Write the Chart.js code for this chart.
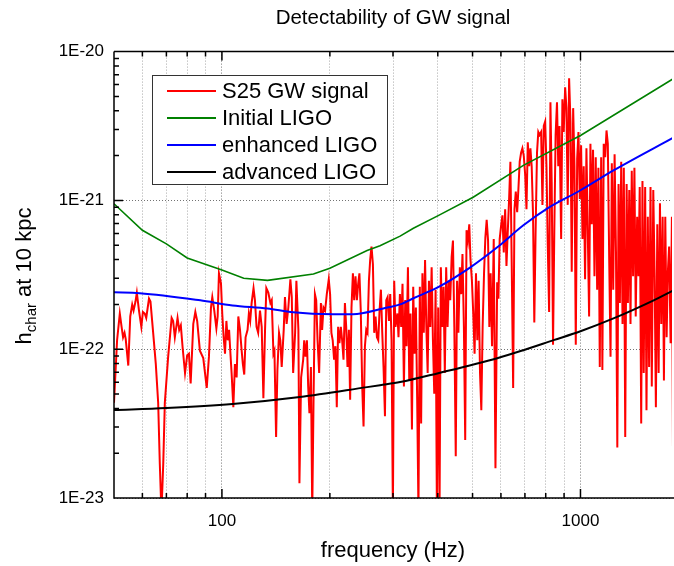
<!DOCTYPE html>
<html>
<head>
<meta charset="utf-8">
<script src="https://cdn.jsdelivr.net/npm/chart.js@4.4.1/dist/chart.umd.min.js"></script>
<style>
  body { margin: 0; background: #fff; overflow: hidden; }
  canvas { display: block; }
</style>
</head>
<body>
<canvas id="gwChart" width="674" height="566"></canvas>
<script>
const FONT = '"Liberation Sans", Arial, sans-serif';

// S25 signal: [frequency (Hz), log10(h_char)]
const s25Signal = [
  [50.0,-22.36],[51.0,-21.94],[51.9,-21.76],[52.5,-21.85],[53.0,-21.92],[53.5,-21.89],[53.9,-21.93],[54.8,-22.11],
  [55.5,-21.78],[56.2,-21.70],[56.7,-21.74],[57.4,-21.68],[57.9,-21.62],[58.7,-21.74],[59.6,-21.85],[60.2,-21.75],
  [60.9,-21.76],[61.5,-21.79],[62.6,-21.66],[63.2,-21.68],[64.3,-21.89],[65.4,-22.10],[66.4,-22.36],[67.1,-22.77],
  [67.8,-23.1],[68.6,-22.77],[69.3,-22.36],[70.8,-22.05],[72.4,-21.79],[73.1,-21.81],[73.9,-21.92],[75.2,-21.79],
  [76.0,-21.87],[76.8,-21.84],[77.7,-21.99],[78.9,-22.16],[80.0,-22.04],[80.9,-22.03],[81.8,-22.23],[83.2,-21.83],
  [84.3,-21.75],[85.3,-21.81],[86.8,-22.01],[88.7,-22.06],[90.7,-22.26],[92.0,-22.05],[93.2,-21.72],[94.0,-21.65],
  [95.2,-21.74],[96.5,-21.86],[97.3,-21.78],[98.1,-21.49],[99.4,-21.56],[100.2,-21.76],[101.1,-21.92],[102.0,-22.03],
  [102.9,-21.81],[103.8,-21.94],[104.7,-21.87],[105.5,-22.01],[106.4,-22.16],[107.6,-22.39],[108.7,-22.10],[109.9,-22.19],
  [111.1,-21.78],[112.3,-21.87],[113.5,-22.01],[114.4,-22.10],[115.4,-22.17],[116.4,-21.92],[117.9,-21.87],[118.9,-21.76],
  [119.9,-21.81],[121.0,-21.69],[122.5,-21.59],[123.6,-21.67],[124.9,-21.85],[126.2,-21.89],[127.7,-21.74],[129.1,-21.85],
  [130.5,-22.33],[131.9,-21.87],[133.0,-21.59],[134.7,-21.62],[136.5,-21.69],[137.7,-21.67],[139.2,-22.03],[140.1,-22.01],
  [141.6,-22.59],[142.8,-22.14],[144.3,-21.89],[145.5,-21.94],[146.8,-22.12],[148.7,-21.87],[149.9,-21.65],[151.5,-21.83],
  [153.2,-21.72],[155.2,-21.53],[156.6,-21.65],[158.0,-22.16],[160.0,-21.89],[161.3,-21.54],[163.4,-21.87],[164.5,-22.90],
  [166.3,-22.19],[168.5,-22.07],[169.6,-21.94],[171.0,-22.05],[172.6,-21.94],[174.0,-22.25],[175.4,-22.43],[177.1,-22.12],
  [178.6,-23.1],[180.1,-22.34],[181.7,-21.63],[183.2,-21.67],[184.8,-21.94],[186.7,-22.16],[188.8,-21.69],[190.3,-21.87],
  [192.0,-21.72],[194.0,-21.74],[196.1,-21.63],[198.6,-21.53],[200.3,-21.63],[202.0,-21.89],[203.7,-21.94],[205.5,-22.07],
  [207.3,-21.98],[209.1,-22.39],[210.9,-21.85],[212.7,-21.96],[214.6,-21.85],[216.4,-21.94],[218.3,-22.07],[220.3,-21.69],
  [222.1,-21.85],[224.0,-22.12],[226.0,-21.87],[227.8,-22.34],[229.8,-21.72],[231.9,-21.49],[233.8,-21.67],[235.8,-21.51],
  [237.9,-21.67],[239.9,-21.56],[241.8,-21.49],[243.9,-21.74],[246.2,-22.25],[248.3,-22.52],[250.5,-21.98],[252.6,-21.87],
  [254.7,-21.89],[257.0,-21.54],[259.1,-21.40],[261.3,-21.31],[263.7,-21.43],[265.9,-21.89],[268.2,-21.78],[270.6,-21.92],
  [272.9,-21.94],[275.2,-21.74],[277.6,-21.60],[280.0,-21.89],[282.3,-22.12],[284.9,-22.45],[287.3,-21.67],[289.7,-21.65],
  [292.3,-21.81],[294.7,-21.63],[297.2,-21.94],[299.8,-23.1],[302.3,-21.54],[304.8,-21.85],[308.7,-21.76],[310.8,-21.92],
  [313.6,-21.63],[316.2,-21.85],[318.9,-21.56],[321.8,-22.25],[324.5,-21.67],[327.3,-21.98],[330.2,-21.45],[333.0,-22.21],
  [335.7,-21.76],[338.8,-22.54],[341.6,-21.58],[344.4,-22.03],[347.5,-21.72],[350.4,-22.34],[353.3,-23.1],[356.4,-21.58],
  [359.4,-22.50],[362.4,-21.49],[365.6,-21.89],[368.6,-21.40],[371.6,-21.85],[374.8,-22.16],[377.9,-21.54],[381.2,-21.85],
  [384.5,-21.45],[387.7,-21.94],[391.0,-22.30],[394.4,-21.60],[397.7,-23.1],[401.0,-21.72],[404.5,-23.1],[407.9,-21.45],
  [411.4,-21.85],[415.0,-21.58],[418.5,-22.16],[422.1,-21.45],[425.9,-21.85],[429.5,-21.54],[433.3,-21.67],[437.2,-21.38],
  [440.9,-21.27],[444.8,-21.85],[448.9,-22.72],[452.7,-21.54],[456.6,-21.89],[460.9,-21.45],[464.8,-21.63],[468.7,-21.36],
  [473.0,-21.85],[477.0,-22.61],[481.1,-21.20],[485.5,-21.27],[489.6,-21.16],[493.5,-21.40],[498.0,-21.54],[502.3,-21.76],
  [506.6,-22.03],[511.2,-21.49],[515.5,-21.94],[519.9,-21.54],[524.6,-22.16],[529.0,-22.41],[533.5,-21.85],[538.3,-21.49],
  [542.9,-21.25],[547.5,-21.13],[552.4,-21.27],[557.0,-21.85],[561.6,-21.49],[566.6,-21.98],[572.9,-21.26],[579.3,-22.80],
  [585.6,-21.55],[590.4,-21.66],[595.2,-21.26],[600.6,-21.17],[605.8,-21.10],[611.0,-21.35],[616.5,-21.06],[621.7,-21.44],
  [626.9,-21.21],[632.4,-20.99],[637.6,-20.74],[643.1,-21.44],[649.0,-22.26],[654.5,-21.06],[660.0,-20.94],[665.9,-21.08],
  [671.4,-20.92],[676.9,-20.74],[682.9,-20.68],[688.7,-20.65],[694.8,-20.70],[701.2,-20.83],[707.0,-21.06],[712.9,-20.61],
  [719.2,-20.77],[725.1,-20.65],[731.0,-20.77],[737.4,-21.10],[743.4,-21.82],[749.6,-21.21],[756.4,-20.68],[762.7,-20.54],
  [768.9,-20.56],[776.7,-20.54],[783.3,-21.03],[790.0,-20.50],[797.2,-20.47],[803.8,-20.77],[810.5,-21.30],[817.6,-21.75],
  [824.6,-20.34],[831.3,-20.88],[838.5,-21.97],[845.3,-21.21],[852.4,-20.56],[860.0,-20.34],[867.1,-20.77],[874.2,-20.50],
  [883.2,-21.26],[890.4,-20.32],[898.0,-20.54],[906.2,-20.24],[913.8,-20.38],[921.4,-21.03],[929.6,-20.18],[937.8,-20.47],
  [945.4,-21.48],[954.1,-20.38],[962.2,-20.77],[970.3,-21.97],[979.0,-20.72],[987.1,-20.54],[995.6,-20.99],[1004,-20.63],
  [1013,-21.26],[1021,-20.77],[1030,-21.53],[1039,-20.65],[1048,-21.21],[1057,-21.78],[1066,-20.62],[1075,-21.16],
  [1084,-20.66],[1094,-21.51],[1103,-20.71],[1113,-21.60],[1122,-20.78],[1132,-22.12],[1142,-20.71],[1151,-22.14],
  [1161,-20.62],[1172,-20.71],[1182,-20.53],[1192,-20.62],[1203,-21.42],[1213,-22.05],[1223,-20.75],[1234,-21.60],
  [1245,-20.69],[1256,-21.34],[1267,-22.66],[1277,-20.89],[1288,-21.69],[1299,-20.74],[1310,-21.83],[1321,-20.78],
  [1333,-22.59],[1345,-20.89],[1356,-21.69],[1368,-20.93],[1379,-21.83],[1390,-20.80],[1402,-21.51],[1414,-20.78],
  [1426,-21.78],[1439,-21.11],[1451,-21.51],[1463,-20.91],[1477,-22.50],[1489,-20.87],[1501,-22.16],[1515,-20.91],
  [1528,-22.41],[1541,-21.11],[1554,-22.12],[1568,-20.91],[1581,-22.25],[1596,-20.93],[1610,-21.51],[1623,-22.39],
  [1638,-21.16],[1652,-22.16],[1666,-21.02],[1680,-21.83],[1695,-21.11],[1709,-22.21],[1724,-21.11],[1739,-21.92],
  [1752,-21.49],[1767,-21.31],[1784,-21.96],[1799,-21.11],[1815,-23.1],[1831,-21.38]
];

// detector curves: [frequency (Hz), h_char]
const initialLigo = [
  [50,9.5e-22],[60,6.3e-22],[70,5.1e-22],[80,4.1e-22],[100,3.4e-22],[115,3.0e-22],[134,2.9e-22],[180,3.2e-22],
  [200,3.5e-22],[254,4.6e-22],[276,4.95e-22],[314,5.75e-22],[342,6.5e-22],[401,7.9e-22],[502,1.05e-21],[693,1.72e-21],
  [1000,2.73e-21],[1820,6.6e-21]
];
const enhancedLigo = [
  [50,2.41e-22],[59,2.38e-22],[87,2.13e-22],[107,1.97e-22],[134,1.88e-22],[158,1.77e-22],[204,1.72e-22],[232,1.72e-22],
  [282,1.88e-22],[314,2.0e-22],[342,2.2e-22],[401,2.61e-22],[493,3.55e-22],[586,4.84e-22],[693,6.8e-22],[809,8.84e-22],
  [1000,1.17e-21],[1236,1.59e-21],[1820,2.65e-21]
];
const advancedLigo = [
  [50,3.9e-23],[70,4.02e-23],[107,4.28e-23],[165,4.77e-23],[254,5.56e-23],[276,5.73e-23],[314,6.01e-23],[401,6.9e-23],
  [586,8.7e-23],[693,9.85e-23],[841,1.15e-22],[1000,1.32e-22],[1236,1.61e-22],[1600,2.13e-22],[1820,2.49e-22]
];

const seriesNames = ['S25 GW signal', 'Initial LIGO', 'enhanced LIGO', 'advanced LIGO'];
const seriesColors = ['#ff0000', '#008000', '#0000ff', '#000000'];
const xLabelled = [100, 1000];
const yLabelled = [1e-23, 1e-22, 1e-21, 1e-20];

// mantissa of a log tick (1..9) or null if not a round value
function mantissa(v) {
    const e = Math.floor(Math.log10(v) + 1e-9);
    const m = v / Math.pow(10, e);
    return Math.abs(m - Math.round(m)) < 1e-6 ? Math.round(m) : null;
}
function isDecade(v, list) {
    return list.some(d => Math.abs(Math.log10(v) - Math.log10(d)) < 1e-6);
}

// axes frame, inward ticks, legend and y title ..............................
const framePlugin = {
    id: 'framePlugin',
    afterDraw(chart) {
        const { ctx, chartArea: a, scales: { x, y } } = chart;
        ctx.save();
        ctx.strokeStyle = '#000';
        ctx.lineWidth = 1.5;
        ctx.beginPath();
        ctx.moveTo(a.left, a.top); ctx.lineTo(674, a.top);
        ctx.moveTo(a.left, a.top); ctx.lineTo(a.left, a.bottom); ctx.lineTo(674, a.bottom);
        x.ticks.forEach(t => {
            const m = mantissa(t.value);
            const px = x.getPixelForValue(t.value);
            if (m === null || px < a.left + 2) return;
            const len = m === 1 ? 9 : 5;
            ctx.moveTo(px, a.bottom); ctx.lineTo(px, a.bottom - len);
            ctx.moveTo(px, a.top); ctx.lineTo(px, a.top + len);
        });
        y.ticks.forEach(t => {
            const m = mantissa(t.value);
            const py = y.getPixelForValue(t.value);
            if (m === null || py < a.top + 2 || py > a.bottom - 2) return;
            const len = m === 1 ? 9 : 5;
            ctx.moveTo(a.left, py); ctx.lineTo(a.left + len, py);
        });
        ctx.stroke();

        // legend box
        ctx.fillStyle = '#fff';
        ctx.fillRect(152, 75, 235, 109);
        ctx.strokeStyle = '#333';
        ctx.lineWidth = 1;
        ctx.strokeRect(152.5, 75.5, 235, 109);
        ctx.font = '22px ' + FONT;
        ctx.textBaseline = 'alphabetic';
        ctx.textAlign = 'left';
        chart.data.datasets.forEach((ds, i) => {
            const ly = 91 + i * 27;
            ctx.strokeStyle = ds.borderColor;
            ctx.lineWidth = 1.8;
            ctx.beginPath();
            ctx.moveTo(167, ly); ctx.lineTo(216, ly);
            ctx.stroke();
            ctx.fillStyle = '#000';
            ctx.fillText(ds.label, 222, ly + 6.5);
        });

        // y axis title with subscript
        ctx.translate(31, 276);
        ctx.rotate(-Math.PI / 2);
        ctx.fillStyle = '#000';
        const big = '22px ' + FONT, small = '15px ' + FONT;
        ctx.font = big;
        const w1 = ctx.measureText('h').width;
        const w3 = ctx.measureText(' at 10 kpc').width;
        ctx.font = small;
        const w2 = ctx.measureText('char').width;
        let sx = -(w1 + w2 + w3) / 2;
        ctx.font = big;
        ctx.fillText('h', sx, 0);
        ctx.font = small;
        ctx.fillText('char', sx + w1, 5);
        ctx.font = big;
        ctx.fillText(' at 10 kpc', sx + w1 + w2, 0);
        ctx.restore();
    }
};

const lineData = [s25Signal.map(p => ({ x: p[0], y: Math.pow(10, p[1]) }))]
    .concat([initialLigo, enhancedLigo, advancedLigo].map(s => s.map(p => ({ x: p[0], y: p[1] }))));

new Chart(document.getElementById('gwChart'), {
    type: 'line',
    data: {
        datasets: lineData.map((d, i) => ({
            label: seriesNames[i],
            data: d,
            borderColor: seriesColors[i],
            borderWidth: i === 0 ? 2 : (i === 1 ? 1.6 : 2),
            pointRadius: 0,
            tension: 0,
            cubicInterpolationMode: i >= 2 ? 'monotone' : 'default',
            order: i === 0 ? 1 : 0,
            fill: false
        }))
    },
    options: {
        responsive: false,
        animation: false,
        events: [],
        devicePixelRatio: 1,
        layout: { padding: { left: 0, right: 2, top: 0, bottom: 0 } },
        plugins: {
            legend: { display: false },
            tooltip: { enabled: false },
            title: {
                display: true,
                fullSize: false,
                text: 'Detectability of GW signal',
                color: '#000',
                font: { family: FONT, size: 20.5, weight: 'normal' },
                padding: { top: 6, bottom: 21 }
            }
        },
        scales: {
            x: {
                type: 'logarithmic',
                min: 50,
                max: 1800,
                afterFit(scale) {
                    scale.height = 68;
                    scale.paddingLeft = 0;
                    scale.paddingRight = 0;
                },
                border: { display: false, dash: [1, 2] },
                grid: {
                    drawTicks: false,
                    lineWidth: 1,
                    color: c => {
                        const v = c.tick.value;
                        if (isDecade(v, xLabelled)) return 'rgba(0,0,0,0.55)';
                        return mantissa(v) !== null && v > 50 ? 'rgba(0,0,0,0.35)' : 'rgba(0,0,0,0)';
                    }
                },
                ticks: {
                    autoSkip: false,
                    maxRotation: 0,
                    padding: 13,
                    color: '#000',
                    font: { family: FONT, size: 17 },
                    callback: v => isDecade(v, xLabelled) ? String(Math.round(v)) : ''
                },
                title: {
                    display: true,
                    text: 'frequency (Hz)',
                    color: '#000',
                    font: { family: FONT, size: 22 },
                    padding: { top: 0, bottom: 2 }
                }
            },
            y: {
                type: 'logarithmic',
                min: 1e-23,
                max: 1e-20,
                afterFit(scale) {
                    scale.width = 114;
                    scale.paddingTop = 0;
                    scale.paddingBottom = 0;
                },
                border: { display: false, dash: [1, 2] },
                grid: {
                    drawTicks: false,
                    lineWidth: 1,
                    color: c => isDecade(c.tick.value, yLabelled) ? 'rgba(0,0,0,0.55)' : 'rgba(0,0,0,0)'
                },
                ticks: {
                    autoSkip: false,
                    padding: 10,
                    color: '#000',
                    font: { family: FONT, size: 17 },
                    callback: v => isDecade(v, yLabelled) ? '1E' + Math.round(Math.log10(v)) : ''
                }
            }
        }
    },
    plugins: [framePlugin]
});
</script>
</body>
</html>
